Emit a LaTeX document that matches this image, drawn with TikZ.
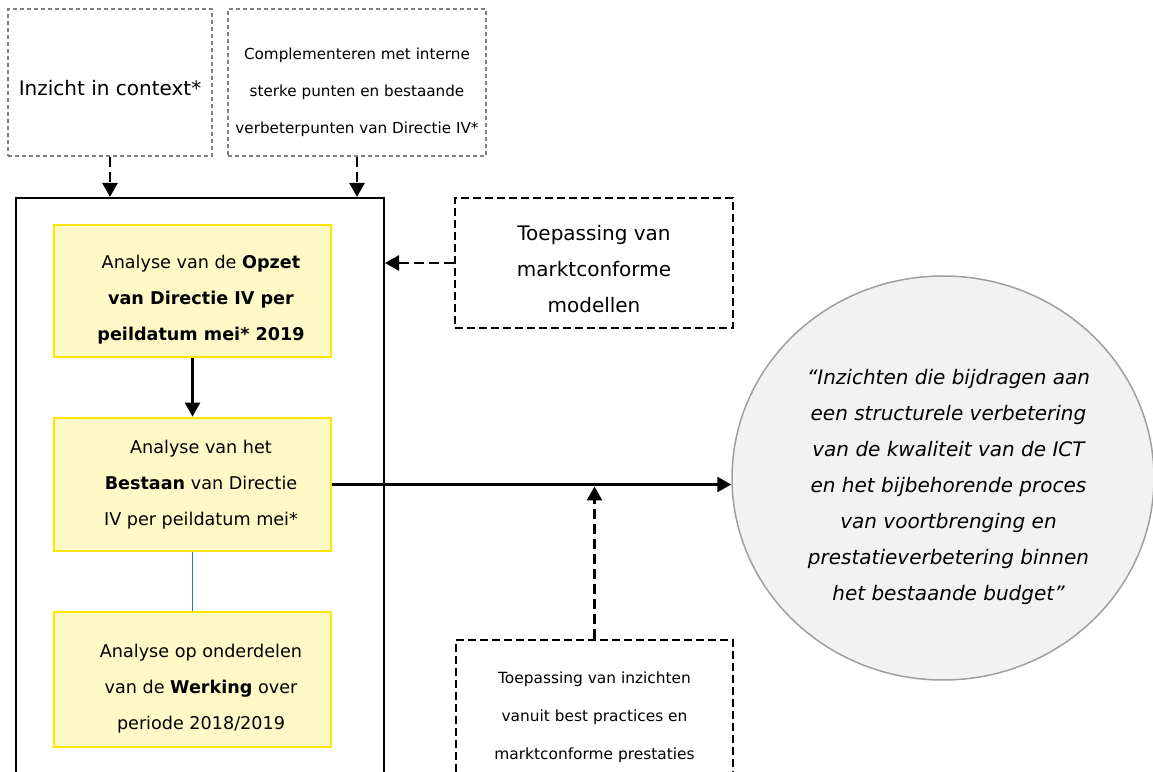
\documentclass[tikz,border=0pt]{standalone}
\usepackage{fontspec}
\setmainfont{DejaVu Sans}
\usepackage{tikz}
\usetikzlibrary{positioning,arrows.meta,shapes.geometric}
\definecolor{boxyellow}{HTML}{FFF9C8}
\definecolor{lineyellow}{HTML}{FFE500}
\definecolor{goalgray}{HTML}{F2F2F2}
\definecolor{linkblue}{HTML}{2E75B6}
\newcommand{\topgap}[1]{\rule{0pt}{#1}}
\newcommand{\padl}[1]{\hspace*{#1}}

\begin{document}
\begin{tikzpicture}[x=1pt, y=1pt, >={Triangle[length=14pt,width=15pt]}]
\tikzstyle{inbox}=[draw=gray, line width=1.2pt, dash pattern=on 4pt off 3pt, align=center, inner sep=0pt]
\tikzstyle{extbox}=[draw=black, line width=1.8pt, dash pattern=on 8pt off 4pt, align=center, inner sep=0pt]
\tikzstyle{stepbox}=[draw=lineyellow, line width=2.8pt, fill=boxyellow, align=center, inner sep=0pt,
  minimum width=277pt, font=\fontsize{17.6}{36}\selectfont]
\tikzstyle{feed}=[->, line width=2.6pt, dash pattern=on 10pt off 5pt]
\tikzstyle{flow}=[->, line width=2.6pt]
\useasboundingbox (0,0) rectangle (1153,771);
\clip (0,0) rectangle (1153,771);

% inputs on top
\node[inbox, minimum width=204pt, minimum height=147pt, font=\fontsize{20}{36}\selectfont]
  (context) at (110,688.5) {\topgap{27pt}Inzicht in context*};
\node[inbox, minimum width=258pt, minimum height=147pt, font=\fontsize{15.2}{37}\selectfont]
  (intern) at (357,688.5) {\topgap{32pt}Complementeren met interne\\sterke punten en bestaande\\verbeterpunten van Directie IV*};

% scope frame
\node[draw=black, line width=2pt, minimum width=368pt, minimum height=593pt, inner sep=0pt]
  (frame) at (200,276.5) {};

\node[stepbox, minimum height=132pt] (opzet) at (192.5,480)
  {\padl{17pt}\topgap{31pt}Analyse van de \textbf{Opzet}\\\padl{17pt}\textbf{van Directie IV per}\\\padl{17pt}\textbf{peildatum mei* 2019}};
\node[stepbox, minimum height=133pt] (bestaan) at (192.5,286.5)
  {\padl{17pt}Analyse van het\\\padl{17pt}\textbf{Bestaan} van Directie\\\padl{17pt}IV per peildatum mei*};
\node[stepbox, minimum height=135pt] (werking) at (192.5,91.5)
  {\padl{17pt}\topgap{31pt}Analyse op onderdelen\\\padl{17pt}van de \textbf{Werking} over\\\padl{17pt}periode 2018/2019};

% external sources
\node[extbox, minimum width=278pt, minimum height=130pt, font=\fontsize{20}{36}\selectfont]
  (modellen) at (594,508) {\topgap{27pt}Toepassing van\\marktconforme\\modellen};
\node[extbox, minimum width=277pt, minimum height=150pt, font=\fontsize{15.4}{38}\selectfont]
  (practices) at (594.5,56) {\topgap{16pt}Toepassing van inzichten\\vanuit best practices en\\marktconforme prestaties};

% goal
\node[ellipse, draw=gray!75, line width=1.5pt, fill=goalgray, minimum width=422pt, minimum height=404pt,
  inner sep=0pt, align=center, font=\fontsize{20}{36}\selectfont\itshape]
  (goal) at (943,293) {\padl{11pt}\topgap{34pt}“Inzichten die bijdragen aan\\\padl{11pt}een structurele verbetering\\\padl{11pt}van de kwaliteit van de ICT\\\padl{11pt}en het bijbehorende proces\\\padl{11pt}van voortbrenging en\\\padl{11pt}prestatieverbetering binnen\\\padl{11pt}het bestaande budget”};

\draw[feed] (context.south) -- (context.south |- frame.north);
\draw[feed] (intern.south) -- (intern.south |- frame.north);
\draw[feed] (modellen.west) -- (modellen.west -| frame.east);
\draw[flow] (opzet.south) -- (bestaan.north);
\draw[linkblue, line width=1.8pt] (bestaan.south) -- (werking.north);
\draw[flow] (bestaan.east) -- (bestaan.east -| goal.west);
\draw[feed] (practices.north) -- ([yshift=-2pt]practices.north |- bestaan.east);
\end{tikzpicture}
\end{document}
